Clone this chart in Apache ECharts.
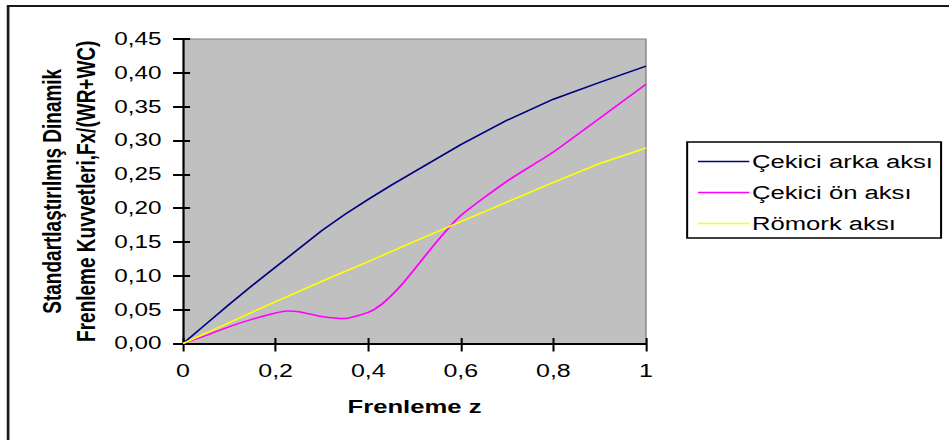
<!DOCTYPE html>
<html>
<head>
<meta charset="utf-8">
<script src="https://cdn.jsdelivr.net/npm/echarts@6/dist/echarts.min.js"></script>
<style>
  html, body { margin: 0; padding: 0; background: #ffffff; overflow: hidden; }
  /* The chart is laid out in a narrower box and widened horizontally,
     which gives the broad lettering of the printed figure. */
  #chart { width: 703px; height: 440px; transform: scaleX(1.35); transform-origin: 0 0; }
</style>
</head>
<body>
<div id="chart"></div>
<script>
// Braking ratio z (x axis)
const arkaZ  = [0, 0.05, 0.1, 0.15, 0.2, 0.25, 0.3, 0.35, 0.4, 0.45, 0.5, 0.6, 0.7, 0.8, 0.9, 1.0];
// Tractor rear axle
const arkaAks = [0, 0.029, 0.058, 0.086, 0.113, 0.140, 0.167, 0.191, 0.213, 0.234, 0.254, 0.294, 0.330, 0.361, 0.386, 0.410];

const onZ   = [0, 0.05, 0.1, 0.15, 0.2, 0.225, 0.25, 0.3, 0.35, 0.4, 0.425, 0.45, 0.475, 0.5, 0.55, 0.6, 0.7, 0.8, 0.9, 1.0];
// Tractor front axle
const onAks = [0, 0.012, 0.025, 0.036, 0.045, 0.048, 0.047, 0.040, 0.037, 0.046, 0.056, 0.071, 0.089, 0.110, 0.152, 0.189, 0.240, 0.283, 0.333, 0.383];

const romorkZ   = [0, 0.1, 0.2, 0.3, 0.4, 0.5, 0.6, 0.7, 0.8, 0.9, 1.0];
// Trailer axle
const romorkAks = [0, 0.031, 0.062, 0.092, 0.121, 0.151, 0.180, 0.209, 0.238, 0.266, 0.289];

const seriesNames = ['Çekici arka aksı', 'Çekici ön aksı', 'Römork aksı'];
const xTickLabels = ['0', '0,2', '0,4', '0,6', '0,8', '1'];
const yTickLabels = ['0,00', '0,05', '0,10', '0,15', '0,20', '0,25', '0,30', '0,35', '0,40', '0,45'];

const pairs = (xs, ys) => xs.map((x, i) => [x, ys[i]]);
const FONT = '"Liberation Sans", Arial, sans-serif';

const chart = echarts.init(document.getElementById('chart'), null, { renderer: 'svg' });

const xBase = { type: 'value', min: 0, max: 1, interval: 0.2 };
const yBase = { type: 'value', min: 0, max: 0.45, interval: 0.05 };

chart.setOption({
  animation: false,
  backgroundColor: '#ffffff',
  textStyle: { fontFamily: FONT },
  graphic: [{
    type: 'rect',
    silent: true,
    shape: { x: 6, y: 6, width: 900, height: 600 },
    style: { fill: 'none', stroke: '#1a1a1a', lineWidth: 2 }
  }],
  grid: {
    left: 135.6, right: 224.5, top: 39, bottom: 96.5,
    show: true, backgroundColor: '#c0c0c0', borderColor: '#808080', borderWidth: 1,
    outerBoundsMode: 'none'
  },
  legend: {
    orient: 'vertical',
    left: 509, top: 142,
    data: seriesNames.map(n => ({ name: n, icon: 'rect' })),
    itemWidth: 38, itemHeight: 1.5, itemGap: 12,
    padding: [10, 6, 5, 8],
    borderColor: '#000000', borderWidth: 1.5,
    backgroundColor: '#ffffff',
    textStyle: { fontFamily: FONT, fontSize: 19, color: '#000000', padding: [0, 0, 0, -3] }
  },
  xAxis: [
    Object.assign({}, xBase, {
      position: 'bottom',
      name: 'Frenleme z', nameLocation: 'middle', nameGap: 54,
      nameTextStyle: { fontFamily: FONT, fontSize: 19, fontWeight: 'bold', color: '#000000' },
      axisLine: { show: true, onZero: false, lineStyle: { color: '#000000', width: 2 } },
      axisTick: { show: true, length: 8, lineStyle: { color: '#000000', width: 1.5 } },
      axisLabel: {
        margin: 18, fontFamily: FONT, fontSize: 18.5, color: '#000000',
        formatter: v => xTickLabels[Math.round(v / 0.2)]
      },
      splitLine: { show: false }
    }),
    Object.assign({}, xBase, {
      position: 'bottom',
      axisLine: { show: false },
      axisTick: { show: true, inside: true, length: 5.5, lineStyle: { color: '#000000', width: 1.5 } },
      axisLabel: { show: false },
      splitLine: { show: false }
    })
  ],
  yAxis: [
    Object.assign({}, yBase, {
      position: 'left',
      name: 'Standartlaştırılmış Dinamik\nFrenleme Kuvvetleri,Fx/(WR+WC)',
      nameLocation: 'middle', nameGap: 84, nameRotate: 90,
      nameTextStyle: {
        fontFamily: FONT, fontSize: 19, fontWeight: 'bold', color: '#000000',
        lineHeight: 25, align: 'center', verticalAlign: 'middle'
      },
      axisLine: { show: true, onZero: false, lineStyle: { color: '#000000', width: 1.5 } },
      axisTick: { show: true, length: 7.4, lineStyle: { color: '#000000', width: 2 } },
      axisLabel: {
        margin: 16, fontFamily: FONT, fontSize: 18, color: '#000000',
        formatter: v => yTickLabels[Math.round(v / 0.05)]
      },
      splitLine: { show: false }
    }),
    Object.assign({}, yBase, {
      position: 'left',
      axisLine: { show: false },
      axisTick: { show: true, inside: true, length: 5.2, lineStyle: { color: '#000000', width: 2 } },
      axisLabel: { show: false },
      splitLine: { show: false }
    })
  ],
  series: [
    {
      name: seriesNames[0], type: 'line', xAxisIndex: 0, yAxisIndex: 0,
      data: pairs(arkaZ, arkaAks), symbol: 'none',
      lineStyle: { color: '#000080', width: 1.5 }, itemStyle: { color: '#000080' }
    },
    {
      name: seriesNames[1], type: 'line', xAxisIndex: 0, yAxisIndex: 0,
      data: pairs(onZ, onAks), symbol: 'none', smooth: 0.2,
      lineStyle: { color: '#ff00ff', width: 1.5 }, itemStyle: { color: '#ff00ff' }
    },
    {
      name: seriesNames[2], type: 'line', xAxisIndex: 0, yAxisIndex: 0,
      data: pairs(romorkZ, romorkAks), symbol: 'none',
      lineStyle: { color: '#ffff00', width: 1.5 }, itemStyle: { color: '#ffff00' }
    }
  ]
});
</script>
</body>
</html>
